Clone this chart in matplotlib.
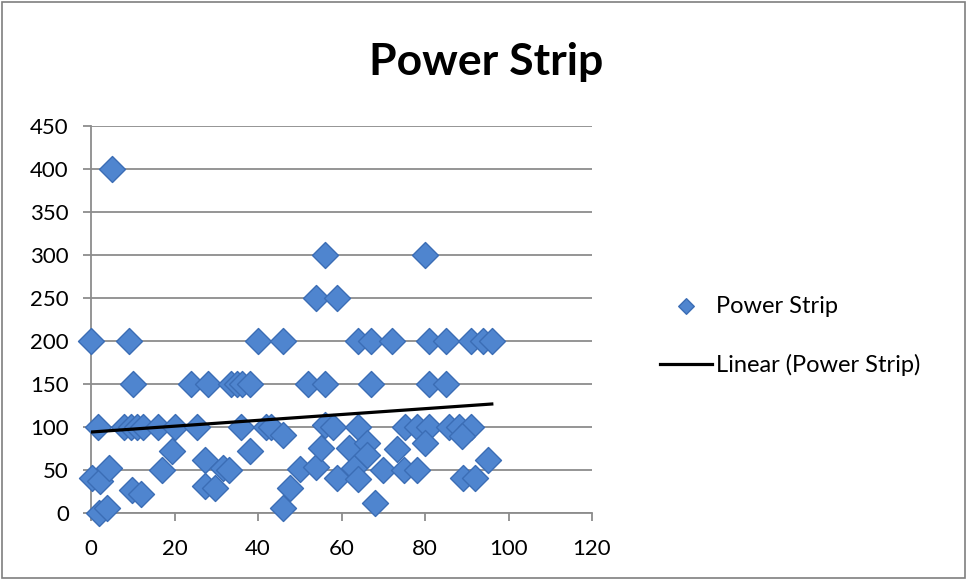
import numpy as np
import matplotlib
matplotlib.use("Agg")
import matplotlib.pyplot as plt
from matplotlib.patches import Rectangle

# values
x_vals = [5,
          56, 80,
          54, 59,
          0, 9, 40, 46, 64, 67, 72, 81, 85, 91, 94, 96,
          10, 24, 28, 33.5, 35, 36.2, 38, 52, 56, 67, 81, 85,
          1.6, 8, 9.5, 11, 12.5, 16, 20, 25.5, 36, 42, 43, 56, 58, 64,
          75.3, 78, 81, 85.7, 88.1, 90.9,
          46, 88.9,
          0.2, 2.2, 4.2, 1.8, 3.8, 9.8, 12, 17, 19.3,
          27.3, 27.3, 29.7, 31.5, 33, 38,
          46, 47.7, 50, 54, 55, 59, 61.7, 63, 64, 66, 66, 68, 70, 73.3,
          75, 78, 80, 89, 92, 95]
y_vals = [400,
          300, 300,
          250, 250,
          200, 200, 200, 200, 200, 200, 200, 200, 200, 200, 200, 200,
          150, 150, 150, 150, 150, 150, 150, 150, 150, 150, 150, 150,
          100, 100, 100, 100, 100, 100, 100, 100, 100, 100, 100, 102, 100, 100,
          100, 100, 100, 100, 100, 100,
          91, 90,
          41, 37, 52, 0, 6, 27, 22, 50, 72,
          62, 31, 29, 52, 50, 72,
          6, 29, 51, 54, 76, 41, 76, 52, 39, 81, 68, 12, 50, 74,
          50, 50, 81, 41, 41, 62]

x_ticks = [0, 20, 40, 60, 80, 100, 120]
y_ticks = [0, 50, 100, 150, 200, 250, 300, 350, 400, 450]

plt.rcParams['font.family'] = ['Lato', 'DejaVu Sans']

fig = plt.figure(figsize=(9.67, 5.8), dpi=100)
ax = fig.add_axes([91 / 967, 67 / 580, 501 / 967, 387 / 580])

grid_col = '#8c8c8c'
ax.scatter(x_vals, y_vals, marker='D', s=175, color='#4f85cf',
           edgecolors='#3b6db5', linewidths=1.0, zorder=3, label='Power Strip')

# linear trendline (least squares), like Excel's
xs = np.array(x_vals, dtype=float)
ys = np.array(y_vals, dtype=float)
slope, icpt = np.polyfit(xs, ys, 1)
xl = np.array([xs.min(), xs.max()])
ax.plot(xl, slope * xl + icpt, color='black', lw=2.3, zorder=4,
        label='Linear (Power Strip)')

ax.set_xlim(0, 120)
ax.set_ylim(0, 450)
ax.set_xticks(x_ticks)
ax.set_yticks(y_ticks)
ax.yaxis.grid(True, color=grid_col, lw=1.3)
ax.set_axisbelow(True)
for s in ['top', 'right']:
    ax.spines[s].set_visible(False)
for s in ['left', 'bottom']:
    ax.spines[s].set_color(grid_col)
    ax.spines[s].set_linewidth(1.3)
ax.tick_params(axis='both', colors=grid_col, labelcolor='black',
               labelsize=16, width=1.3, length=6, direction='out', pad=10)
ax.tick_params(axis='x', pad=13)
for c in ax.collections:
    c.set_clip_on(False)

fig.text(0.503, 0.893, 'Power Strip', ha='center', va='center',
         fontsize=32, fontweight='bold')

leg = ax.legend(loc='center left', bbox_to_anchor=(660 / 967, 1 - 336 / 580),
                bbox_transform=fig.transFigure, frameon=False, fontsize=17,
                markerscale=0.6, handlelength=2.2, handletextpad=0.18,
                labelspacing=1.6, borderpad=0, borderaxespad=0)

fig.patches.append(Rectangle((0.002, 0.003), 0.996, 0.994,
                             transform=fig.transFigure, fill=False,
                             edgecolor='#7f7f7f', lw=1.2))

fig.savefig('out.png', dpi=100)
